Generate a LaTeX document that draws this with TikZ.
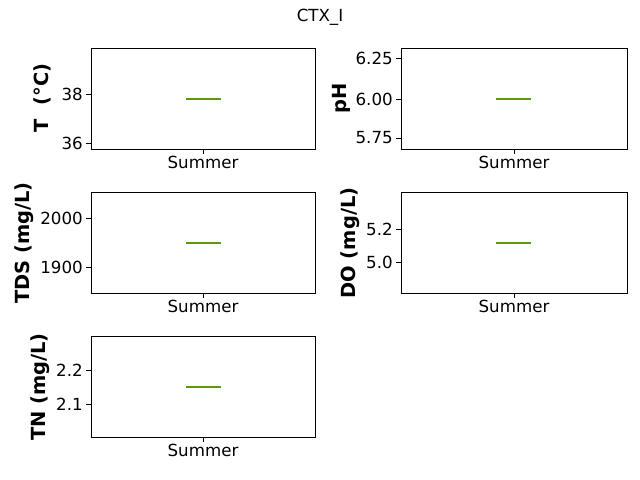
\documentclass[tikz,border=0pt]{standalone}
\usepackage{fontspec}
\setmainfont{DejaVu Sans}
\usetikzlibrary{positioning}
\usetikzlibrary{calc}
\definecolor{medgreen}{RGB}{92,150,26}
% axes frame: left, top, right, bottom (px)
\newcommand{\axesframe}[5]{%
  \draw[axis] (#2,#3) rectangle (#4,#5);
  \coordinate (#1c) at ({(#2+#4)/2},#5);
  \draw[axis] (#1c) -- ++(0,5);
  \node[xtick] (#1x) at ($(#1c)+(0,7)$) {Summer};
}
\begin{document}
\begin{tikzpicture}[x=0.72pt, y=-0.72pt,
    axis/.style={draw=black, line width=0.6pt},
    xtick/.style={anchor=north, font=\fontsize{12}{14}\selectfont, inner sep=0pt},
    ytick/.style={anchor=east, font=\fontsize{12}{14}\selectfont, inner sep=0pt},
    ylab/.style={rotate=90, font=\fontsize{14}{16}\selectfont\bfseries, inner sep=0pt},
    median/.style={draw=medgreen, line width=1.2pt},
    ]
    \useasboundingbox (0,0) rectangle (640,480);
    \node (title) at (320,17) {\fontsize{12}{14}\selectfont CTX\_I};

    % panels
    \axesframe{a}{91}{48}{315}{149}
    \axesframe{b}{401}{48}{627}{149}
    \axesframe{c}{91}{192}{315}{293}
    \axesframe{d}{401}{192}{627}{293}
    \axesframe{e}{91}{336}{315}{437}

    % y ticks
    \foreach \p/\x/\y/\t in {a/91/94/38, a/91/143/36,
        b/401/58/6.25, b/401/99/6.00, b/401/138/5.75,
        c/91/218/2000, c/91/267/1900,
        d/401/229/5.2, d/401/262/5.0,
        e/91/370/2.2, e/91/404/2.1} {
        \draw[axis] (\x,\y) -- ++(-5,0);
        \node[ytick] (\p\t) at (\x-8,\y) {\t};
    }

    % y labels
    \node[ylab] (alab) at (42,98) {T\ \ (°C)};
    \node[ylab] (blab) at (341,98) {pH};
    \node[ylab] (clab) at (24,243) {TDS (mg/L)};
    \node[ylab] (dlab) at (350,243) {DO (mg/L)};
    \node[ylab] (elab) at (40,387) {TN (mg/L)};

    % medians
    \foreach \x/\y in {186/99, 496/99, 186/243, 496/243, 186/387} {
        \draw[median] (\x,\y) -- ++(35,0);
    }
\end{tikzpicture}
\end{document}
